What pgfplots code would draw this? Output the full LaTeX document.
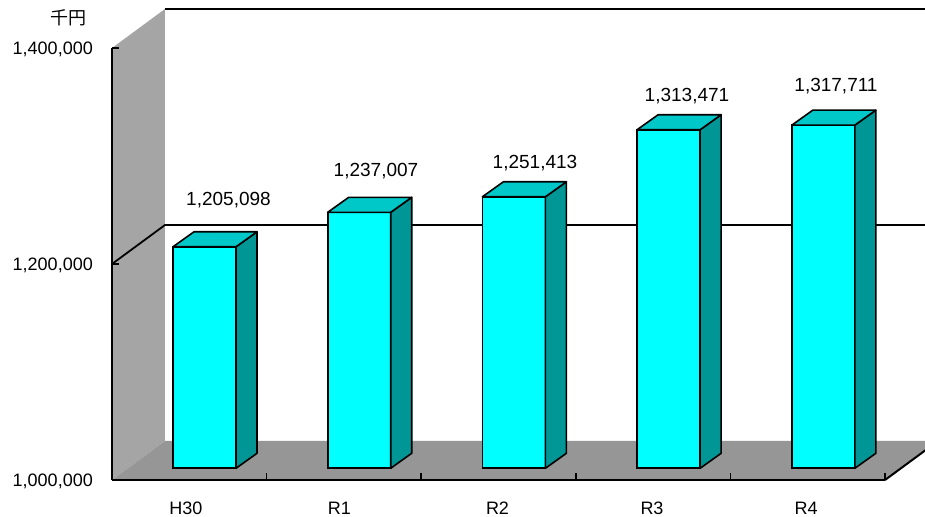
\documentclass[border=0pt]{standalone}
\usepackage{fontspec}
\setmainfont{Liberation Sans}
\newfontfamily\cjk{Noto Sans CJK JP}
\usepackage{pgfplots}
\usepackage{pgfplotstable}
\pgfplotsset{compat=1.18}
\definecolor{barfront}{RGB}{0,255,255}
\definecolor{bartop}{RGB}{0,200,200}
\definecolor{barside}{RGB}{0,150,150}
\definecolor{wallgray}{RGB}{165,165,165}
\definecolor{floorgray}{RGB}{150,150,150}

% i = category index, v = value (thousand yen),
% lx/ly = label offset (pt) from the top of the bar's front face
\pgfplotstableread{
i v lx ly
0 1205098 24.0 41.3
1 1237007 16.8 36.3
2 1251413 21.1 28.6
3 1313471 18.4 28.3
4 1317711 12.7 33.7
}\data

\begin{document}
\begin{tikzpicture}
\begin{axis}[
  scale only axis, width=773pt, height=432pt,
  xmin=112, xmax=885, ymin=-10833.33, ymax=389166.67,
  clip=false, axis on top,
  scaled ticks=false,
  axis x line=bottom, axis y line=left,
  axis line style={-, line width=2pt, black},
  ytick={-10833.33,189166.67,389166.67},
  yticklabels={{1,000,000},{1,200,000},{1,400,000}},
  xtick={266.6,421.2,575.8,730.4,885},
  xticklabels={,,,,},
  extra x ticks={186,339.5,497.5,652,806},
  extra x tick labels={H30,R1,R2,R3,R4},
  extra x tick style={major tick length=0pt},
  tick align=inside, major tick length=7pt,
  tick style={black, line width=1.5pt},
  tick label style={font=\fontsize{18}{20}\selectfont, inner sep=0pt},
  yticklabel style={anchor=base east, xshift=-19pt, yshift=-7pt},
  xticklabel style={anchor=base, yshift=-35pt},
  ylabel={\cjk 千円},
  ylabel style={rotate=-90, at={(rel axis cs:-0.0569,1.0694)}, anchor=center, font=\fontsize{18}{20}\selectfont, inner sep=0pt},
]
\coordinate (bbsw) at (axis cs:0,-45092.6);
\coordinate (bbne) at (axis cs:925,433611.1);
\fill[white] (axis cs:0,-45092.6) rectangle (axis cs:925,433611.1);
% left wall
\fill[wallgray] (axis cs:112,-10833.33) -- (axis cs:112,389166.67) -- (axis cs:165,425277.8) -- (axis cs:165,25277.8) -- cycle;
% floor
\fill[floorgray] (axis cs:112,-10833.33) -- (axis cs:885,-10833.33) -- (axis cs:938,25277.8) -- (axis cs:165,25277.8) -- cycle;
\draw[line width=2pt] (axis cs:885,-10833.33) -- (axis cs:938,25277.8);
% back wall top edge
\draw[line width=2pt] (axis cs:165,425277.8) -- (axis cs:938,425277.8);
% gridline 1,200,000
\draw[line width=1.8pt] (axis cs:112,189166.67) -- (axis cs:165,225277.8) -- (axis cs:938,225277.8);

% front faces of the bars
\addplot[ybar, bar width=63pt, fill=barfront, draw=black, line width=1.6pt]
  table[x expr={204.5+154.7*\thisrow{i}}, y expr={\thisrow{v}-1000000}] {\data};

% top and side faces
\addplot[only marks, scatter, mark=*, mark size=0pt, mark options={draw=none, fill=none},
  visualization depends on={(\thisrow{v}-1000000)*0.00108 \as \barH},
  scatter/@pre marker code/.code={%
    \pgfmathsetmacro\Hb{15-\barH}%
    \pgfmathsetmacro\Hn{-\barH}%
    \filldraw[fill=barside, draw=black, line width=1.6pt, line join=round] (0pt,0pt) -- (21pt,15pt) -- (21pt,\Hb pt) -- (0pt,\Hn pt) -- cycle;
    \filldraw[fill=bartop, draw=black, line width=1.6pt, line join=round] (0pt,0pt) -- (-63pt,0pt) -- (-42pt,15pt) -- (21pt,15pt) -- cycle;
  },
  scatter/@post marker code/.code={},
] table[x expr={236+154.7*\thisrow{i}}, y expr={\thisrow{v}-1000000}] {\data};

% value labels
\addplot[draw=none, mark=none, point meta=explicit,
  nodes near coords={\pgfmathprintnumber[fixed, precision=0, 1000 sep={,}, assume math mode=true]{\pgfplotspointmeta}},
  nodes near coords style={anchor=base, font=\fontsize{19}{21}\selectfont, text=black, inner sep=0pt},
] table[x expr={204.5+154.7*\thisrow{i}+\thisrow{lx}}, y expr={\thisrow{v}-1000000+925.926*\thisrow{ly}}, meta=v] {\data};
\end{axis}
\pgfresetboundingbox
\useasboundingbox (bbsw) rectangle (bbne);
\end{tikzpicture}
\end{document}
